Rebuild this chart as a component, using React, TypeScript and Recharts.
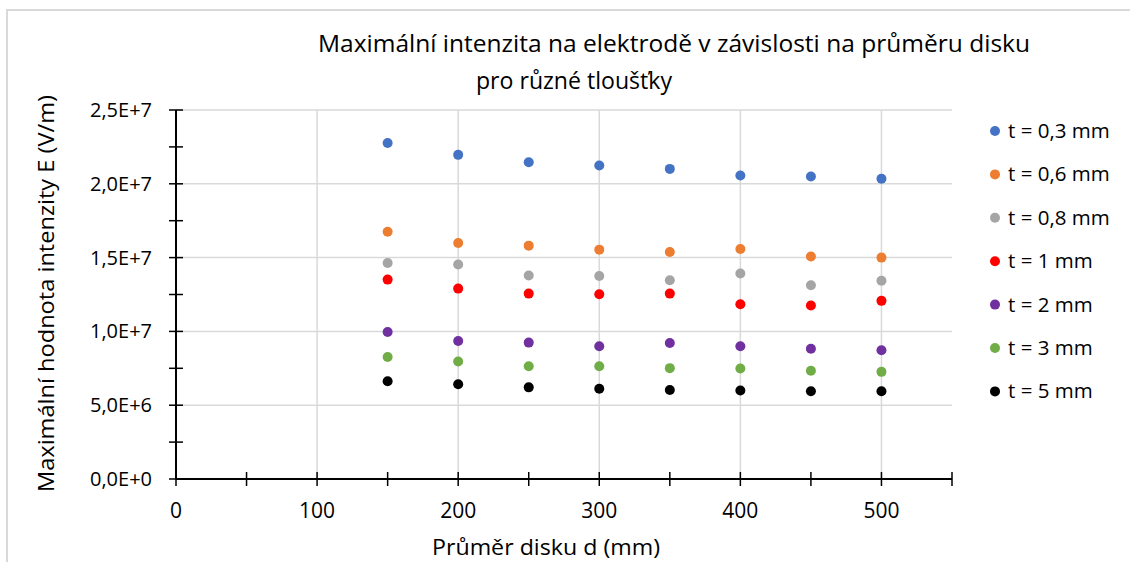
import { ScatterChart, Scatter, XAxis, YAxis, CartesianGrid } from "recharts"

// průměr disku d (mm)
const diameters = [150, 200, 250, 300, 350, 400, 450, 500]

// maximální intenzita E (V/m) pro jednotlivé tloušťky
const t03 = [2.276e7, 2.196e7, 2.146e7, 2.124e7, 2.101e7, 2.056e7, 2.049e7, 2.034e7]
const t06 = [1.675e7, 1.599e7, 1.581e7, 1.554e7, 1.538e7, 1.558e7, 1.507e7, 1.5e7]
const t08 = [1.464e7, 1.453e7, 1.379e7, 1.375e7, 1.347e7, 1.392e7, 1.313e7, 1.343e7]
const t1 = [1.351e7, 1.29e7, 1.256e7, 1.252e7, 1.256e7, 1.184e7, 1.175e7, 1.207e7]
const t2 = [9.96e6, 9.35e6, 9.24e6, 8.99e6, 9.21e6, 8.99e6, 8.83e6, 8.72e6]
const t3 = [8.27e6, 7.96e6, 7.64e6, 7.64e6, 7.51e6, 7.49e6, 7.33e6, 7.26e6]
const t5 = [6.62e6, 6.42e6, 6.21e6, 6.12e6, 6.03e6, 5.99e6, 5.94e6, 5.94e6]

const seriesNames = ["t = 0,3 mm", "t = 0,6 mm", "t = 0,8 mm", "t = 1 mm", "t = 2 mm", "t = 3 mm", "t = 5 mm"]
const seriesValues = [t03, t06, t08, t1, t2, t3, t5]
const seriesColors = ["#4472C4", "#ED7D31", "#A5A5A5", "#FF0000", "#7030A0", "#70AD47", "#000000"]

const xTicks = [0, 50, 100, 150, 200, 250, 300, 350, 400, 450, 500, 550]
const yTicks = [0, 2.5e6, 5e6, 7.5e6, 1e7, 1.25e7, 1.5e7, 1.75e7, 2e7, 2.25e7, 2.5e7]
const xGrid = [100, 200, 300, 400, 500]
const yGrid = [5e6, 1e7, 1.5e7, 2e7, 2.5e7]

const FONT = "'Open Sans', 'Noto Sans', sans-serif"

const series = seriesNames.map((name, i) => ({
  name,
  color: seriesColors[i],
  data: diameters.map((d, j) => ({ x: d, y: seriesValues[i][j] })),
}))

function sci(v: number) {
  if (v === 0) return "0,0E+0"
  const e = Math.floor(Math.log10(v))
  const m = v / Math.pow(10, e)
  return `${m.toFixed(1).replace(".", ",")}E+${e}`
}

// eslint-disable-next-line @typescript-eslint/no-explicit-any
const XTick = (props: any) => {
  const { x, y, payload } = props
  const v = payload.value
  return (
    <g>
      <line x1={x} x2={x} y1={y - 7} y2={y + 7} stroke="#000" strokeWidth={1.5} />
      {v % 100 === 0 && (
        <text x={x} y={y + 39} textAnchor="middle" fontSize={21} fontFamily={FONT} fill="#000">
          {v}
        </text>
      )}
    </g>
  )
}

// eslint-disable-next-line @typescript-eslint/no-explicit-any
const YTick = (props: any) => {
  const { x, y, payload } = props
  const v = payload.value
  const major = v % 5e6 === 0
  return (
    <g>
      <line x1={x - 7} x2={x + 7} y1={y} y2={y} stroke="#000" strokeWidth={1.5} />
      {major && (
        <text x={x - 24} y={y + 7} textAnchor="end" fontSize={20} fontFamily={FONT} fill="#000">
          {sci(v)}
        </text>
      )}
    </g>
  )
}

export default function App() {
  return (
    <div style={{ position: "absolute", left: 0, top: 0, width: 1130, height: 562, background: "#fff", overflow: "hidden" }}>
      <div style={{ position: "absolute", left: 6, top: 9, width: 1200, height: 600, border: "2px solid #d9d9d9", boxSizing: "border-box" }} />
      <div style={{ position: "absolute", left: 0, top: 0 }}>
        <ScatterChart width={1130} height={562} margin={{ top: 110, right: 178, bottom: 0, left: 0 }}>
          <CartesianGrid
            stroke="#d9d9d9"
            strokeWidth={1.5}
            verticalValues={xGrid}
            horizontalValues={yGrid}
          />
          <XAxis
            type="number"
            dataKey="x"
            domain={[0, 550]}
            ticks={xTicks}
            interval={0}
            height={83}
            tickSize={0}
            tickMargin={0}
            tickLine={false}
            axisLine={{ stroke: "#000", strokeWidth: 2 }}
            tick={<XTick />}
          />
          <YAxis
            type="number"
            dataKey="y"
            domain={[0, 2.5e7]}
            ticks={yTicks}
            interval={0}
            width={176}
            tickSize={0}
            tickMargin={0}
            tickLine={false}
            axisLine={{ stroke: "#000", strokeWidth: 2 }}
            tick={<YTick />}
          />
          {series.map((s) => (
            <Scatter
              key={s.name}
              name={s.name}
              data={s.data}
              fill={s.color}
              isAnimationActive={false}
              // eslint-disable-next-line @typescript-eslint/no-explicit-any
              shape={(p: any) => <circle cx={p.cx} cy={p.cy} r={5} fill={s.color} />}
            />
          ))}
        </ScatterChart>
      </div>
      <svg width={1130} height={562} style={{ position: "absolute", left: 0, top: 0, pointerEvents: "none" }}>
        <text x={318} y={52} fontSize={24} fontFamily={FONT} fill="#000" textLength={712} lengthAdjust="spacingAndGlyphs">
          Maximální intenzita na elektrodě v závislosti na průměru disku
        </text>
        <text x={476} y={89} fontSize={24} fontFamily={FONT} fill="#000" textLength={196} lengthAdjust="spacingAndGlyphs">
          pro různé tloušťky
        </text>
        <text
          x={0}
          y={0}
          transform="translate(54,293.5) rotate(-90)"
          textAnchor="middle"
          fontSize={22}
          fontFamily={FONT}
          fill="#000"
          textLength={397}
          lengthAdjust="spacingAndGlyphs"
        >
          Maximální hodnota intenzity E (V/m)
        </text>
        <text x={432} y={555} fontSize={22} fontFamily={FONT} fill="#000" textLength={228} lengthAdjust="spacingAndGlyphs">
          Průměr disku d (mm)
        </text>
        {series.map((s, i) => {
          const cy = 131 + i * 43.4
          return (
            <g key={s.name}>
              <circle cx={995} cy={cy} r={5} fill={s.color} />
              <text x={1008} y={cy + 7} fontSize={20.5} fontFamily={FONT} fill="#000">
                {s.name}
              </text>
            </g>
          )
        })}
      </svg>
    </div>
  )
}
